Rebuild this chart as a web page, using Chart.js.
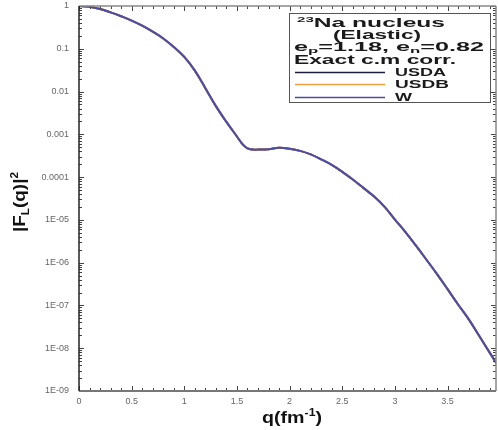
<!DOCTYPE html>
<html><head><meta charset="utf-8">
<script src="https://cdn.jsdelivr.net/npm/chart.js@4.4.1/dist/chart.umd.min.js"></script>
<style>html,body{margin:0;padding:0;background:#fff}canvas{display:block}</style>
</head><body>
<canvas id="c" width="498" height="430"></canvas>
<script>
// ---- data ----
const qValues = [0,0.1,0.2,0.3,0.4,0.5,0.6,0.7,0.8,0.9,1.0,1.1,1.2,1.3,1.4,1.5,1.55,1.6,1.65,1.7,1.8,1.9,2.0,2.1,2.2,2.3,2.4,2.5,2.6,2.7,2.8,2.9,3.0,3.1,3.2,3.3,3.4,3.5,3.6,3.7,3.8,3.9,4.0];
const usdaValues = [1,0.955,0.851,0.708,0.575,0.457,0.347,0.251,0.174,0.110,0.0646,0.0309,0.0120,0.00457,0.00195,8.9e-4,6.0e-4,4.7e-4,4.4e-4,4.4e-4,4.5e-4,4.85e-4,4.6e-4,4.1e-4,3.4e-4,2.6e-4,1.93e-4,1.33e-4,8.8e-5,5.6e-5,3.55e-5,2.04e-5,1.02e-5,5.2e-6,2.5e-6,1.17e-6,5.4e-7,2.4e-7,1.05e-7,4.8e-8,1.95e-8,7.9e-9,3.2e-9];
const usdbValues = [1,0.955,0.851,0.708,0.575,0.457,0.347,0.251,0.174,0.110,0.0646,0.0309,0.0120,0.00457,0.00195,8.9e-4,6.0e-4,4.7e-4,4.4e-4,4.4e-4,4.5e-4,4.85e-4,4.6e-4,4.1e-4,3.4e-4,2.6e-4,1.93e-4,1.33e-4,8.8e-5,5.6e-5,3.55e-5,2.04e-5,1.02e-5,5.2e-6,2.5e-6,1.17e-6,5.4e-7,2.4e-7,1.05e-7,4.8e-8,1.95e-8,7.9e-9,3.2e-9];
const wValues    = [1,0.955,0.851,0.708,0.575,0.457,0.347,0.251,0.174,0.110,0.0646,0.0309,0.0120,0.00457,0.00195,8.9e-4,6.0e-4,4.7e-4,4.4e-4,4.4e-4,4.5e-4,4.85e-4,4.6e-4,4.1e-4,3.4e-4,2.6e-4,1.93e-4,1.33e-4,8.8e-5,5.6e-5,3.55e-5,2.04e-5,1.02e-5,5.2e-6,2.5e-6,1.17e-6,5.4e-7,2.4e-7,1.05e-7,4.8e-8,1.95e-8,7.9e-9,3.2e-9];
const seriesNames = ["USDA","USDB","W"];
const xTickValues = [0,0.5,1,1.5,2,2.5,3,3.5];
const xTickLabels = ["0","0.5","1","1.5","2","2.5","3","3.5"];
const yTickValues = [1,0.1,0.01,0.001,0.0001,1e-5,1e-6,1e-7,1e-8,1e-9];
const yTickLabels = ["1","0.1","0.01","0.001","0.0001","1E-05","1E-06","1E-07","1E-08","1E-09"];

// ---- styles ----
const seriesColors = ["#1c1c3c","#f0a040","#4b4baa"];
const FONT = "'Liberation Sans', Arial, sans-serif";

function pts(vals){ return qValues.map((q,i)=>({x:q,y:vals[i]})); }

// rich text: segments {t, size, dy}; optional target width -> horizontal stretch
function drawRich(ctx, segs, x, y, align, targetW){
  let w = 0;
  segs.forEach(s=>{ ctx.font = "bold "+s.size+"px "+FONT; s.w = ctx.measureText(s.t).width; w += s.w; });
  const sx = targetW ? targetW / w : 1;
  let start = align==="center" ? x - w*sx/2 : x;
  ctx.save();
  ctx.translate(start, y);
  ctx.scale(sx,1);
  let cx = 0;
  segs.forEach(s=>{ ctx.font = "bold "+s.size+"px "+FONT; ctx.fillText(s.t, cx, s.dy||0); cx += s.w; });
  ctx.restore();
}

const framePlugin = {
  id:'frame',
  afterDatasetsDraw(chart){
    const {ctx, chartArea:a, scales:{x,y}} = chart;
    ctx.save();
    const line=(x1,y1,x2,y2)=>{ctx.beginPath();ctx.moveTo(x1,y1);ctx.lineTo(x2,y2);ctx.stroke();};
    ctx.strokeStyle = '#444'; ctx.lineWidth = 1;
    for (let i=0;i<=40;i++){
      const v=i/10; if (v > x.max) break;
      const px = Math.round(x.getPixelForValue(v))+0.5;
      const L = (i%5===0)?5:3;
      line(px,a.bottom,px,a.bottom-L);
      line(px,a.top,px,a.top+L);
    }
    for (let e=-9;e<=0;e++){
      for (let m=1;m<=9;m++){
        const v = m*Math.pow(10,e); if (v>1.0000001) break;
        const py = Math.round(y.getPixelForValue(v))+0.5;
        const L = m===1?5:3;
        line(a.left,py,a.left+L,py);
        line(a.right,py,a.right-L,py);
      }
    }
    ctx.strokeStyle='#888'; ctx.lineWidth=1.5;
    line(a.left,a.top,a.right,a.top);
    line(a.right,a.top,a.right,a.bottom);
    ctx.strokeStyle='#777'; ctx.lineWidth=2;
    line(a.left,a.bottom,a.right,a.bottom);
    ctx.strokeStyle='#222'; ctx.lineWidth=1.5;
    line(a.left,a.top,a.left,a.bottom);
    ctx.restore();
  },
  afterDraw(chart){
    const {ctx} = chart;
    ctx.save();
    ctx.fillStyle = '#111';
    ctx.textBaseline = 'alphabetic';
    // x title
    drawRich(ctx,[{t:"q(fm",size:16},{t:"-1",size:10,dy:-7},{t:")",size:16}], 292, 423, "center", 60);
    // y title
    ctx.save();
    ctx.translate(25, 202);
    ctx.rotate(-Math.PI/2);
    drawRich(ctx,[{t:"|F",size:16},{t:"L",size:10,dy:4},{t:"(q)|",size:16},{t:"2",size:10,dy:-7}], 0, 0, "center", 60);
    ctx.restore();
    // legend box
    const bx=289, by=13, bw=201, bh=89;
    ctx.fillStyle='#fff'; ctx.fillRect(bx,by,bw,bh);
    ctx.strokeStyle='#555'; ctx.lineWidth=1; ctx.strokeRect(bx+0.5,by+0.5,bw,bh);
    ctx.fillStyle='#1a1a1a';
    drawRich(ctx,[{t:"23",size:8,dy:-5},{t:"Na nucleus",size:13}], 371, 27, "center", 148);
    drawRich(ctx,[{t:"(Elastic)",size:12}], 377, 39, "center", 88);
    drawRich(ctx,[{t:"e",size:12},{t:"p",size:8,dy:2},{t:"=1.18, e",size:12},{t:"n",size:8,dy:2},{t:"=0.82",size:12}], 294, 51, "left", 190);
    drawRich(ctx,[{t:"Exact c.m corr.",size:12}], 294, 64, "left", 162);
    const rows=[72,84,97];
    const nameW=[51,54,17];
    seriesNames.forEach((n,i)=>{
      ctx.strokeStyle = seriesColors[i]; ctx.lineWidth=1.5;
      ctx.beginPath(); ctx.moveTo(295,rows[i]+0.5); ctx.lineTo(385,rows[i]+0.5); ctx.stroke();
      ctx.fillStyle='#1a1a1a';
      drawRich(ctx,[{t:n,size:11}], 395, rows[i]+4, "left", nameW[i]);
    });
    ctx.restore();
  }
};

new Chart(document.getElementById('c'), {
  type:'line',
  data:{
    datasets: seriesNames.map((n,i)=>({
      label:n,
      data: pts([usdaValues,usdbValues,wValues][i]),
      borderColor: seriesColors[i],
      borderWidth: 2,
      pointRadius:0,
      fill:false,
      order: 2-i,
      tension:0.4
    }))
  },
  options:{
    responsive:false,
    animation:false,
    devicePixelRatio:1,
    layout:{padding:{top:6,right:2,left:0,bottom:0}},
    plugins:{legend:{display:false},tooltip:{enabled:false}},
    scales:{
      x:{
        type:'linear', min:0, max:3.96,
        grid:{display:false, drawTicks:false},
        border:{display:false},
        afterBuildTicks(s){ s.ticks = xTickValues.map(v=>({value:v})); },
        afterFit(s){ s.height = 39; s.paddingLeft = 0; s.paddingRight = 0; },
        ticks:{
          padding:5, color:'#666', font:{size:9, family:FONT}, maxRotation:0, autoSkip:false,
          callback:(v)=>{ const i = xTickValues.indexOf(v); return i>=0 ? xTickLabels[i] : ''; }
        }
      },
      y:{
        type:'logarithmic', min:1e-9, max:1,
        grid:{display:false, drawTicks:false},
        border:{display:false},
        afterBuildTicks(s){ s.ticks = yTickValues.map(v=>({value:v})); },
        afterFit(s){ s.width = 79; s.paddingTop = 0; s.paddingBottom = 0; },
        ticks:{
          padding:10, color:'#666', font:{size:9, family:FONT}, autoSkip:false,
          callback:(v)=>{ const i = yTickValues.findIndex(t=>Math.abs(t-v)/t<1e-6); return i>=0 ? yTickLabels[i] : ''; }
        }
      }
    }
  },
  plugins:[framePlugin]
});
</script>
</body></html>
